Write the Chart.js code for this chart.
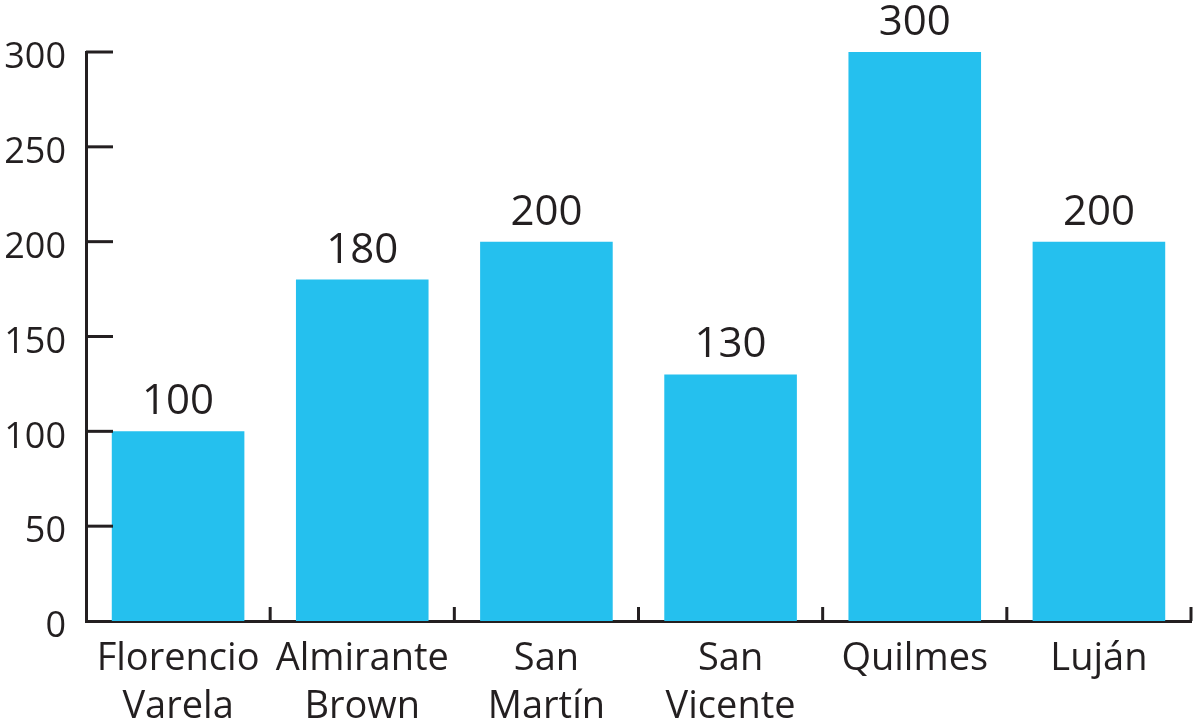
<!DOCTYPE html>
<html>
<head>
<meta charset="utf-8">
<script src="https://cdn.jsdelivr.net/npm/chart.js@4/dist/chart.umd.min.js"></script>
<style>
  html, body { margin: 0; padding: 0; background: #fff; }
  #wrap { width: 1194px; height: 724px; }
</style>
</head>
<body>
<div id="wrap"><canvas id="chart"></canvas></div>
<script>
// data
var categories = [["Florencio", "Varela"], ["Almirante", "Brown"], ["San", "Martín"], ["San", "Vicente"], ["Quilmes"], ["Luján"]];
var values = [100, 180, 200, 130, 300, 200];
var yTicks = [0, 50, 100, 150, 200, 250, 300];

var ink = '#231F20';
var barColor = '#25C0EE';
var fontFamily = '"Open Sans", "Noto Sans", sans-serif';

// inward tick marks + value labels
var decor = {
    id: 'decor',
    afterDatasetsDraw: function(chart) {
        var ctx = chart.ctx;
        var x = chart.scales.x, y = chart.scales.y;
        var area = chart.chartArea;
        ctx.save();
        ctx.strokeStyle = ink;
        ctx.lineWidth = 3;
        // y ticks pointing right
        yTicks.forEach(function(v) {
            if (v === 0) return;
            var py = y.getPixelForValue(v);
            ctx.beginPath();
            ctx.moveTo(area.left, py);
            ctx.lineTo(area.left + 27, py);
            ctx.stroke();
        });
        // x ticks between categories pointing up
        var step = (area.right - area.left) / categories.length;
        for (var i = 0; i < categories.length; i++) {
            var px = x.getPixelForValue(i) + step / 2;
            ctx.beginPath();
            ctx.moveTo(px, area.bottom);
            ctx.lineTo(px, area.bottom - 14);
            ctx.stroke();
        }
        // value labels
        ctx.fillStyle = ink;
        ctx.font = '42px ' + fontFamily;
        ctx.textAlign = 'center';
        ctx.textBaseline = 'alphabetic';
        chart.getDatasetMeta(0).data.forEach(function(bar, i) {
            ctx.fillText(String(values[i]), bar.x, bar.y - 17);
        });
        ctx.restore();
    }
};

new Chart(document.getElementById('chart'), {
    type: 'bar',
    data: {
        labels: categories,
        datasets: [{
            data: values,
            backgroundColor: barColor,
            borderWidth: 0,
            categoryPercentage: 1,
            barPercentage: 0.72
        }]
    },
    options: {
        responsive: true,
        maintainAspectRatio: false,
        animation: false,
        layout: { padding: { top: 52, right: 3, left: 0, bottom: 0 } },
        plugins: {
            legend: { display: false },
            tooltip: { enabled: false }
        },
        scales: {
            x: {
                grid: { display: false, drawTicks: false },
                border: { display: true, color: ink, width: 3 },
                ticks: {
                    color: ink,
                    font: { family: fontFamily, size: 38, lineHeight: 1.27 },
                    padding: 14,
                    maxRotation: 0,
                    autoSkip: false
                },
                afterFit: function(scale) { scale.height = 103; }
            },
            y: {
                min: 0,
                max: 300,
                grid: { display: false, drawTicks: false },
                border: { display: true, color: ink, width: 3 },
                ticks: {
                    stepSize: 50,
                    color: ink,
                    font: { family: fontFamily, size: 36 },
                    padding: 20,
                    labelOffset: 6
                },
                afterFit: function(scale) { scale.width = 86; }
            }
        }
    },
    plugins: [decor]
});
</script>
</body>
</html>
